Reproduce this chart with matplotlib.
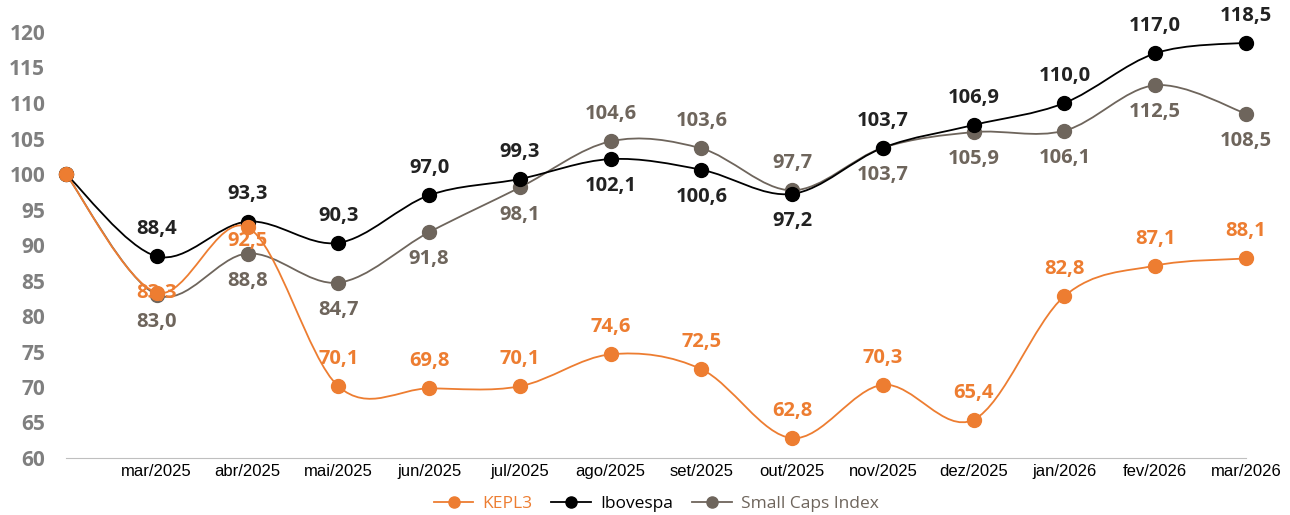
import matplotlib
matplotlib.use('Agg')
from matplotlib import pyplot as plt
from matplotlib.path import Path
from matplotlib.patches import PathPatch

months = ['', 'mar/2025', 'abr/2025', 'mai/2025', 'jun/2025', 'jul/2025', 'ago/2025',
          'set/2025', 'out/2025', 'nov/2025', 'dez/2025', 'jan/2026', 'fev/2026', 'mar/2026']
kepl3 = [100, 83.3, 92.5, 70.1, 69.8, 70.1, 74.6, 72.5, 62.8, 70.3, 65.4, 82.8, 87.1, 88.1]
ibovespa = [100, 88.4, 93.3, 90.3, 97.0, 99.3, 102.1, 100.6, 97.2, 103.7, 106.9, 110.0, 117.0, 118.5]
small_caps = [100, 83.0, 88.8, 84.7, 91.8, 98.1, 104.6, 103.6, 97.7, 103.7, 105.9, 106.1, 112.5, 108.5]

# label side per point: 1 above, -1 below, 0 centred, None no label
kepl3_side = [None, 0, -0.5, 1, 1, 1, 1, 1, 1, 1, 1, 1, 1, 1]
ibov_side = [None, 1, 1, 1, 1, 1, -1, -1, -1, 1, 1, 1, 1, 1]
small_side = [None, -1, -1, -1, -1, -1, 1, 1, 1, -1, -1, -1, -1, -1]

ORANGE = '#ED7D31'
BLACK = '#000000'
GREY = '#6E655C'


def smooth_path(xs, ys):
    # Excel-like smoothed line: cubic bezier with catmull-rom control points
    n = len(xs)
    pts = list(zip(xs, ys))
    verts = [pts[0]]
    codes = [Path.MOVETO]
    for i in range(n - 1):
        p0 = pts[i - 1] if i > 0 else pts[i]
        p1 = pts[i]
        p2 = pts[i + 1]
        p3 = pts[i + 2] if i + 2 < n else pts[i + 1]
        c1 = (p1[0] + (p2[0] - p0[0]) / 6, p1[1] + (p2[1] - p0[1]) / 6)
        c2 = (p2[0] - (p3[0] - p1[0]) / 6, p2[1] - (p3[1] - p1[1]) / 6)
        verts += [c1, c2, p2]
        codes += [Path.CURVE4] * 3
    return Path(verts, codes)


def draw_series(ax, values, sides, color, label_color, name):
    xs = list(range(len(values)))
    ax.add_patch(PathPatch(smooth_path(xs, values), fill=False, edgecolor=color,
                           lw=1.3, zorder=2))
    ax.plot(xs, values, 'o', color=color, markersize=10, zorder=3, clip_on=False)
    for x, v, s in zip(xs, values, sides):
        if s is None:
            continue
        txt = f'{v:.1f}'.replace('.', ',')
        ax.annotate(txt, (x, v), xytext=(0, 19.5 * s), textcoords='offset points',
                    ha='center', va='center', fontsize=14.5, fontweight='bold',
                    color=label_color, family='Open Sans', zorder=4)
    # legend handle
    ax.plot([], [], '-o', color=color, markersize=8, lw=1.3, label=name)


fig = plt.figure(figsize=(12.9, 5.15), dpi=100)
ax = fig.add_axes([66 / 1290, 57 / 515, 1180 / 1290, 426 / 515])

draw_series(ax, small_caps, small_side, GREY, GREY, 'Small Caps Index')
draw_series(ax, ibovespa, ibov_side, BLACK, '#222222', 'Ibovespa')
draw_series(ax, kepl3, kepl3_side, ORANGE, ORANGE, 'KEPL3')

ax.set_xlim(0, 13)
ax.set_ylim(60, 120)
ax.set_yticks(range(60, 121, 5))
ax.set_xticks(range(len(months)))
ax.set_xticklabels(months, fontsize=12, family='Liberation Sans')
for lbl in ax.get_yticklabels():
    lbl.set_fontweight('bold')
    lbl.set_fontsize(15)
    lbl.set_color('#7F7F7F')
    lbl.set_family('Open Sans')
ax.tick_params(axis='both', length=0)
ax.tick_params(axis='y', pad=15)
ax.tick_params(axis='x', pad=4)
for sp in ['top', 'right', 'left']:
    ax.spines[sp].set_visible(False)
ax.spines['bottom'].set_color('#BFBFBF')

handles, labels = ax.get_legend_handles_labels()
order = [2, 1, 0]
leg = ax.legend([handles[i] for i in order], [labels[i] for i in order],
                loc='center', bbox_to_anchor=(0.5, -0.107), ncol=3, frameon=False,
                prop={'family': 'Open Sans', 'size': 12.5}, handlelength=2.3,
                columnspacing=1.1, handletextpad=0.5)
for txt, c in zip(leg.get_texts(), [ORANGE, BLACK, GREY]):
    txt.set_color(c)

fig.savefig('out.png', dpi=100)
